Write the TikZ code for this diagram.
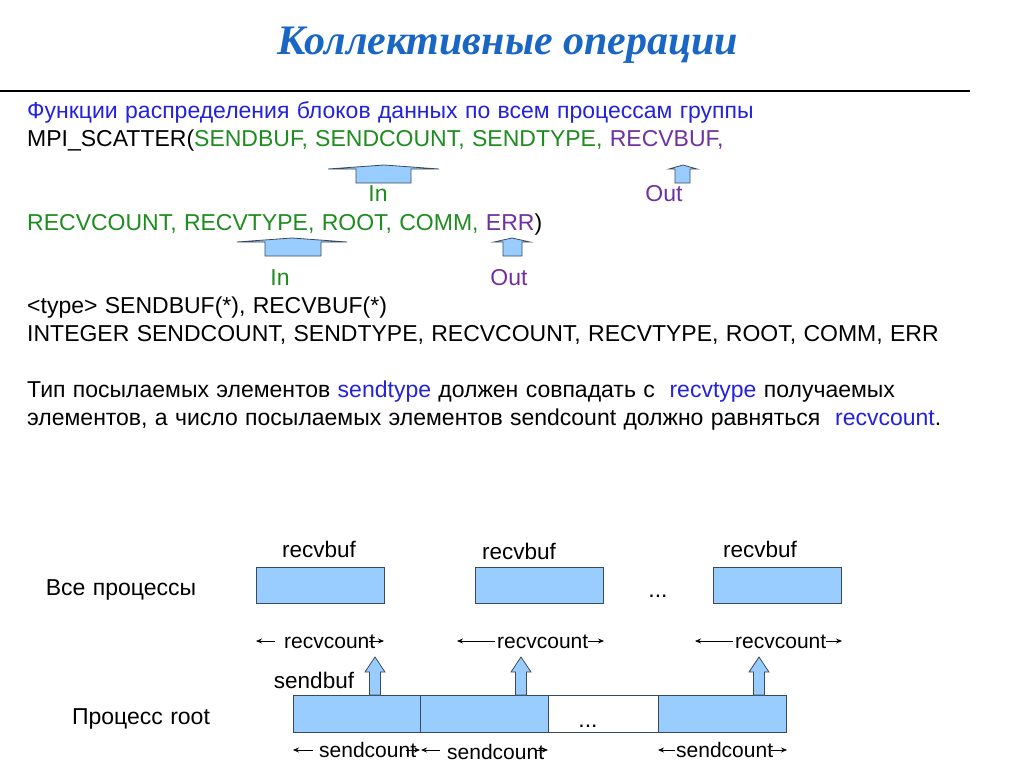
\documentclass[tikz,border=0pt]{standalone}
\usepackage{fontspec}
\usetikzlibrary{arrows.meta}
\setmainfont{Liberation Sans}[WordSpace=1.15]
\newfontfamily\titlefont{Liberation Serif}
\definecolor{ttl}{HTML}{1A66C4}
\definecolor{tb}{HTML}{2222DD}
\definecolor{tg}{HTML}{1E8C1E}
\definecolor{tp}{HTML}{7030A0}
\definecolor{fillb}{HTML}{99CCFF}
\definecolor{edge}{HTML}{3A4A5A}
\tikzset{
  txt/.style={anchor=base west, inner sep=0pt, font=\fontsize{23}{27}\selectfont},
  lbl/.style={anchor=base, inner sep=0pt, font=\fontsize{23}{27}\selectfont},
  blbl/.style={anchor=base, inner sep=0pt, font=\fontsize{22.5}{27}\selectfont},
  cnt/.style={anchor=base west, inner sep=0pt, font=\fontsize{21}{25}\selectfont},
  buf/.style={draw=edge, fill=fillb, line width=0.8pt},
  blk/.style={draw=edge, fill=fillb, line width=0.8pt, line join=miter},
  dim/.style={-{Stealth[length=6pt,width=5pt]}, line width=0.7pt},
}
\begin{document}
\begin{tikzpicture}[x=1pt,y=-1pt]
\useasboundingbox (0,0) rectangle (1024,768);
% title
\node[anchor=base, inner sep=0pt, font=\titlefont\bfseries\itshape\fontsize{42}{48}\selectfont, text=ttl] (title) at (508,55) {Коллективные операции};
\draw[line width=2pt] (0,91) -- (970,91);
% text lines
\node[txt, text=tb] (l1) at (27,118) {Функции распределения блоков данных по всем процессам группы};
\node[txt] (l2) at (27,146) {MPI\_SCATTER(\textcolor{tg}{SENDBUF, SENDCOUNT, SENDTYPE,} \textcolor{tp}{RECVBUF,}};
\node[txt] (l3) at (27,230) {\textcolor{tg}{RECVCOUNT, RECVTYPE, ROOT, COMM,} \textcolor{tp}{ERR})};
\node[txt] (l4) at (27,313) {<type> SENDBUF(*), RECVBUF(*)};
\node[txt] (l5) at (27,341) {INTEGER SENDCOUNT, SENDTYPE, RECVCOUNT, RECVTYPE, ROOT, COMM, ERR};
\node[txt] (l6) at (27,397) {Тип посылаемых элементов \textcolor{tb}{sendtype} должен совпадать с\ \ \textcolor{tb}{recvtype} получаемых};
\node[txt] (l7) at (27,425) {элементов, а число посылаемых элементов sendcount должно равняться\ \ \textcolor{tb}{recvcount}.};
% In/Out block arrows
\draw[blk] (356,183) -- (356,169) -- (328,169) -- (384,165) -- (439,169) -- (411,169) -- (411,183) -- cycle;
\node[lbl, text=tg] (in1) at (378,201) {In};
\draw[blk] (675,183) -- (675,169) -- (669,169) -- (683,165) -- (697,169) -- (690,169) -- (690,183) -- cycle;
\node[lbl, text=tp] (out1) at (664,201) {Out};
\draw[blk] (265,256) -- (265,242) -- (237,242) -- (292,238) -- (347,242) -- (321,242) -- (321,256) -- cycle;
\node[lbl, text=tg] (in2) at (280,285) {In};
\draw[blk] (503,256) -- (503,242) -- (494,242) -- (512,238) -- (530,242) -- (522,242) -- (522,256) -- cycle;
\node[lbl, text=tp] (out2) at (509,285) {Out};
% diagram
\node[lbl] (all) at (121,595) {Все процессы};
\node[lbl] (root) at (141,724) {Процесс root};
\node[buf, minimum width=128pt, minimum height=36pt, anchor=north west] (r1) at (256,567) {};
\node[buf, minimum width=128pt, minimum height=36pt, anchor=north west] (r2) at (475,567) {};
\node[buf, minimum width=128pt, minimum height=36pt, anchor=north west] (r3) at (713,567) {};
\node[blbl] (rb1) at (319,557) {recvbuf};
\node[blbl] (rb2) at (519,559) {recvbuf};
\node[blbl] (rb3) at (760,557) {recvbuf};
\node[lbl] (dots1) at (658,597) {...};
% recvcount
\node[cnt] (rc1) at (284,648) {recvcount};
\node[cnt] (rc2) at (497,648) {recvcount};
\node[cnt] (rc3) at (735,648) {recvcount};
\coordinate (rc1a) at (275,641); \coordinate (rc1l) at (256,641);
\coordinate (rc1b) at (369,641); \coordinate (rc1r) at (384,641);
\coordinate (rc2a) at (495,641); \coordinate (rc2l) at (457,641);
\coordinate (rc2b) at (588,641); \coordinate (rc2r) at (604,641);
\coordinate (rc3a) at (733,641); \coordinate (rc3l) at (695,641);
\coordinate (rc3b) at (826,641); \coordinate (rc3r) at (842,641);
\draw[dim] (rc1a) -- (rc1l);
\draw[dim] (rc1b) -- (rc1r);
\draw[dim] (rc2a) -- (rc2l);
\draw[dim] (rc2b) -- (rc2r);
\draw[dim] (rc3a) -- (rc3l);
\draw[dim] (rc3b) -- (rc3r);
% send buffers
\node[buf, minimum width=127pt, minimum height=37pt, anchor=north west] (s1) at (293,695) {};
\node[buf, minimum width=128pt, minimum height=37pt, anchor=north west] (s2) at (420,695) {};
\node[draw=edge, line width=0.8pt, fill=white, minimum width=110pt, minimum height=37pt, anchor=north west] (s3) at (548,695) {};
\node[buf, minimum width=128pt, minimum height=37pt, anchor=north west] (s4) at (658,695) {};
\node[lbl] (dots2) at (588,727) {...};
\node[blbl] (sb) at (314,688) {sendbuf};
% up arrows
\foreach \x/\n in {375/u1,521/u2,759/u3}{
  \draw[blk] (\x-5.5,695) -- (\x-5.5,672) -- (\x-10,672) -- (\x,657) -- (\x+10,672) -- (\x+5.5,672) -- (\x+5.5,695) -- cycle;
}
% sendcount
\node[cnt] (sc1) at (319,757) {sendcount};
\node[cnt] (sc2) at (447,759) {sendcount};
\node[cnt] (sc3) at (676,757) {sendcount};
\coordinate (sc1a) at (313,750); \coordinate (sc1l) at (293,750);
\coordinate (sc1b) at (406,750); \coordinate (sc1r) at (420,750);
\coordinate (sc2a) at (440,750); \coordinate (sc2l) at (421,750);
\coordinate (sc2b) at (535,750); \coordinate (sc2r) at (548,750);
\coordinate (sc3a) at (675,750); \coordinate (sc3l) at (658,750);
\coordinate (sc3b) at (771,750); \coordinate (sc3r) at (787,750);
\draw[dim] (sc1a) -- (sc1l);
\draw[dim] (sc1b) -- (sc1r);
\draw[dim] (sc2a) -- (sc2l);
\draw[dim] (sc2b) -- (sc2r);
\draw[dim] (sc3a) -- (sc3l);
\draw[dim] (sc3b) -- (sc3r);
\end{tikzpicture}
\end{document}
